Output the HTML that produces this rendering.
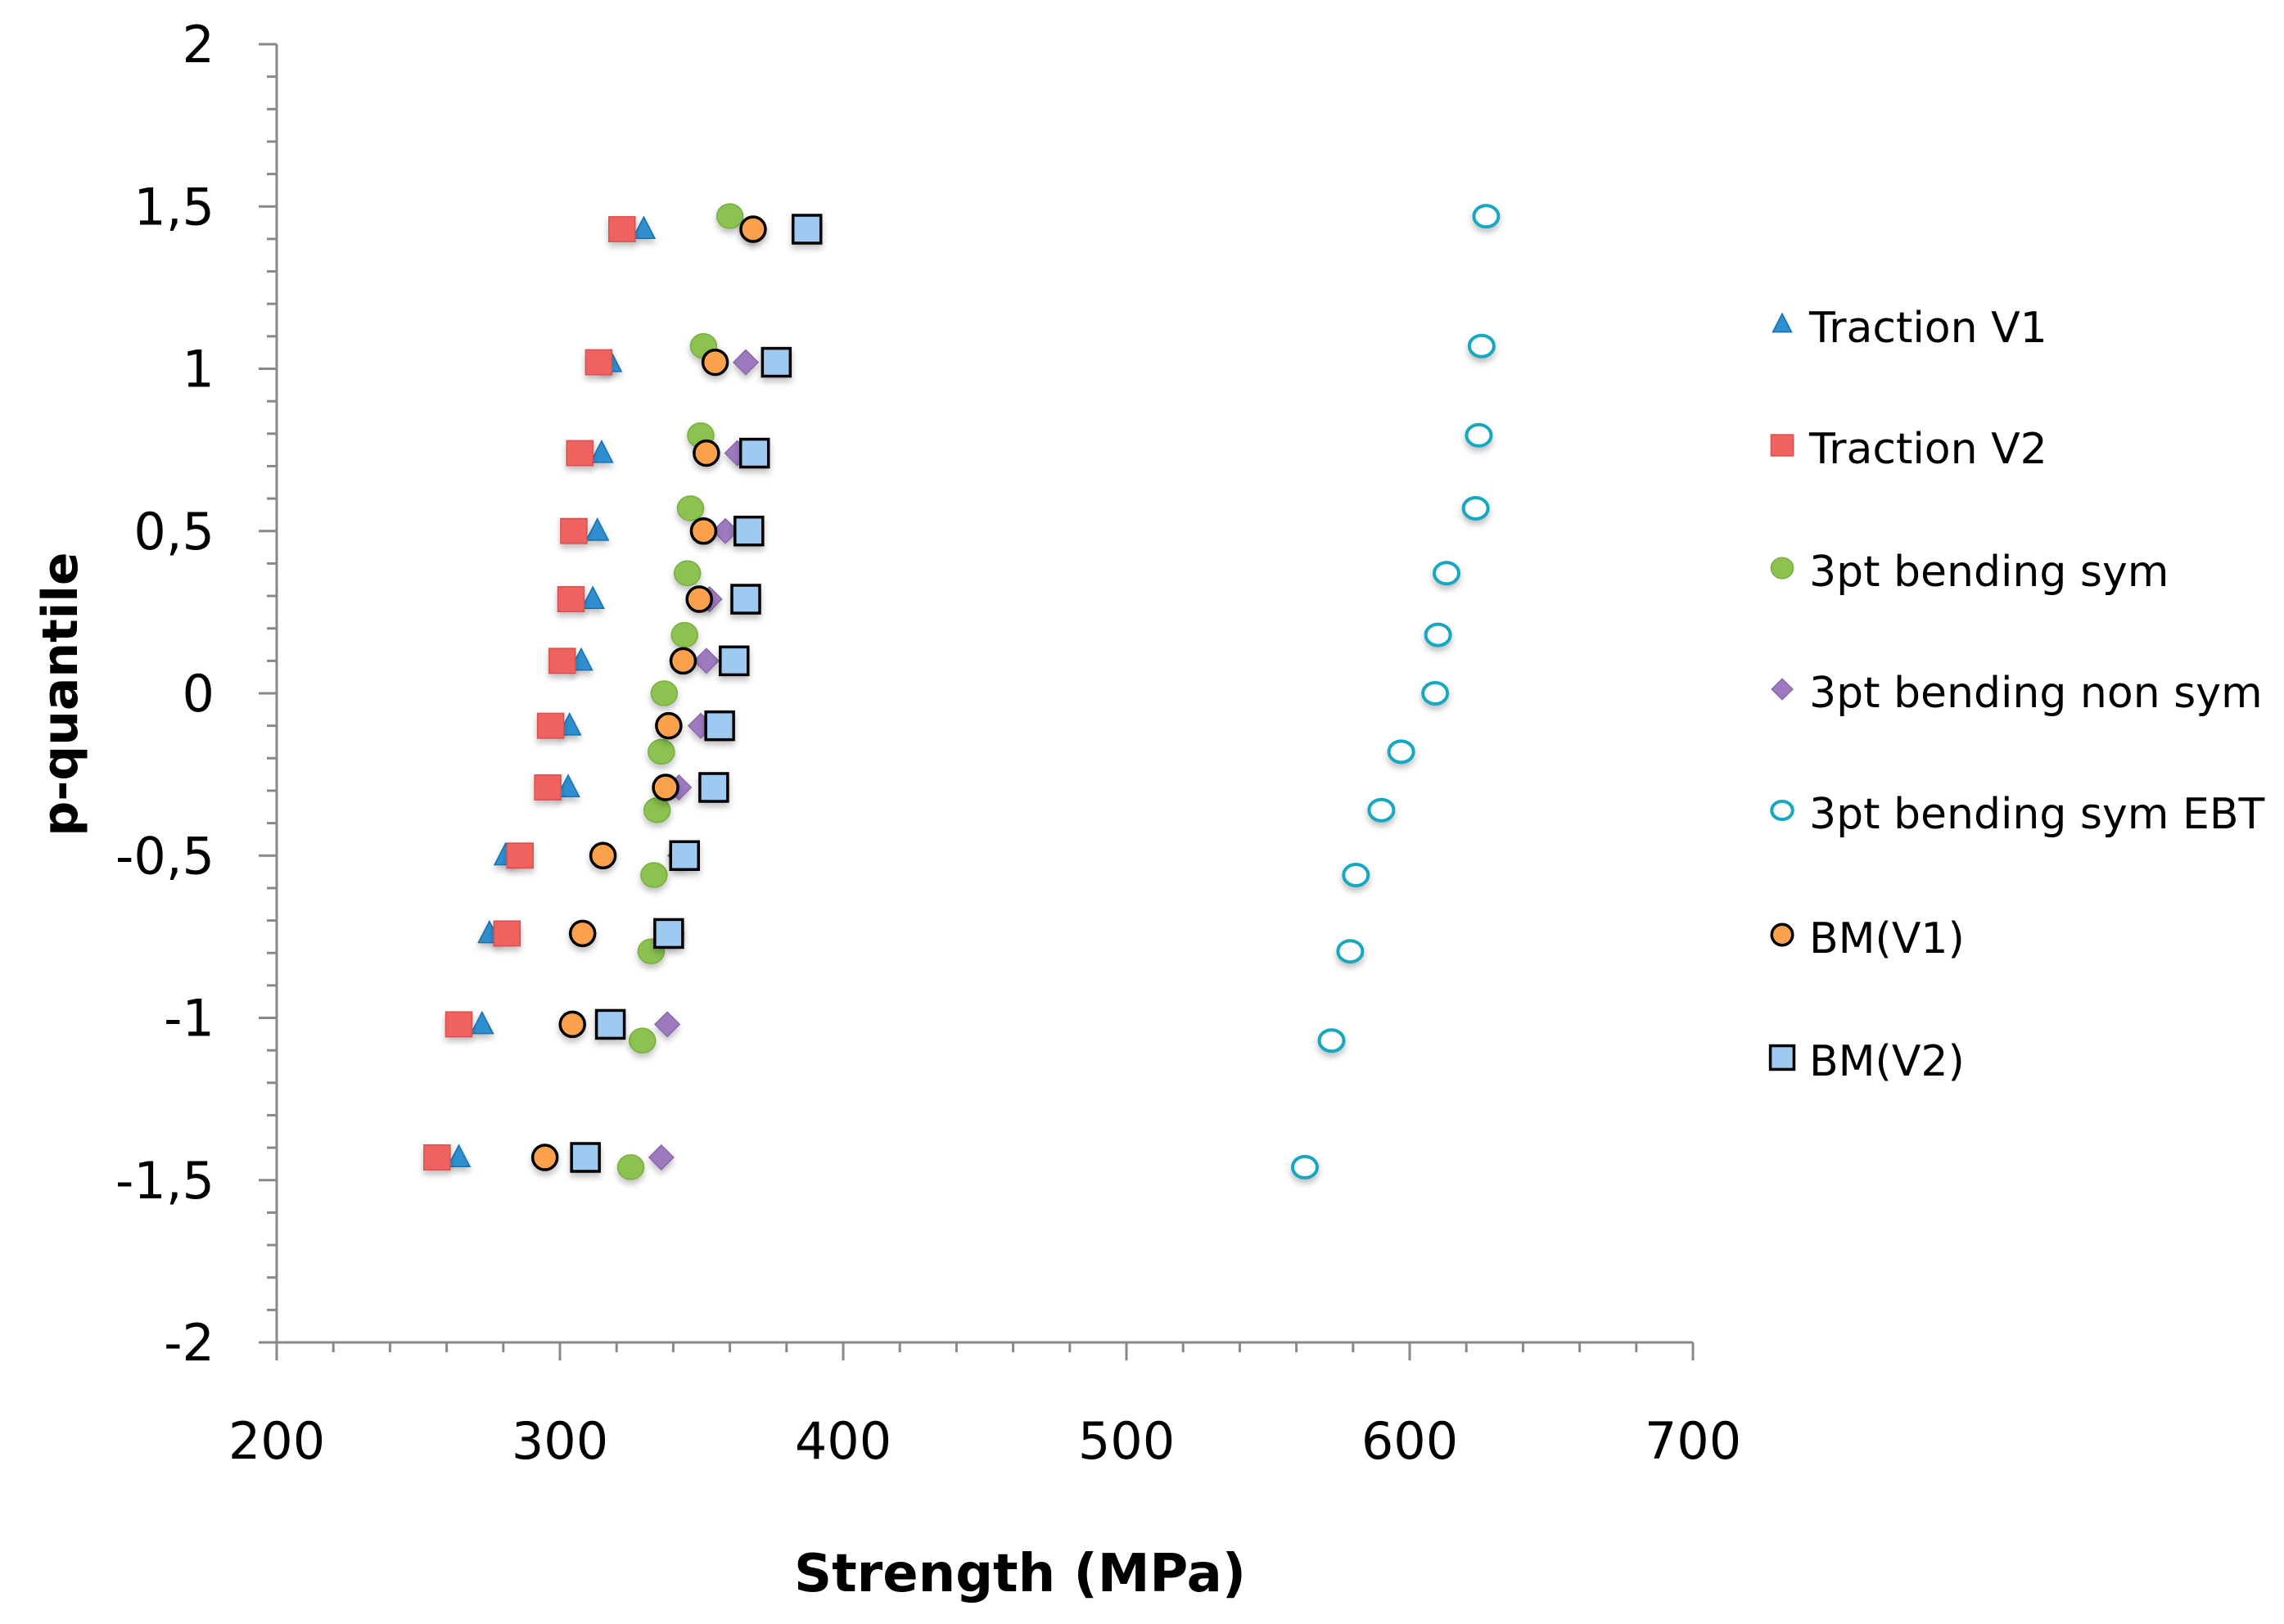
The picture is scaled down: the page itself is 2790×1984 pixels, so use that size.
<!DOCTYPE html>
<html><head><meta charset="utf-8"><style>
html,body{margin:0;padding:0;background:#fff;}
svg{display:block;font-family:"DejaVu Sans","Liberation Sans",sans-serif;}
</style></head><body>
<svg id="chart" width="2790" height="1984" viewBox="0 0 2790 1984" xmlns="http://www.w3.org/2000/svg">
<defs>
<filter id="sh" x="-50%" y="-50%" width="200%" height="200%"><feDropShadow dx="0" dy="5" stdDeviation="4" flood-color="#000" flood-opacity="0.25"/></filter>
</defs>
<g id="axes"></g>
<g id="marks"></g>
<text x="1246" y="1944" text-anchor="middle" font-size="64" font-weight="bold" fill="#000">Strength (MPa)</text>
<text transform="translate(94,848) rotate(-90)" text-anchor="middle" font-size="60" font-weight="bold" fill="#000">p-quantile</text>
<g id="legend"></g>
</svg>
<script>
const xTicks=[200,300,400,500,600,700];
const yTicks=[2,1.5,1,0.5,0,-0.5,-1,-1.5,-2];
const yTickLabels=["2","1,5","1","0,5","0","-0,5","-1","-1,5","-2"];
const yA=[1.43,1.02,0.74,0.5,0.29,0.1,-0.1,-0.29,-0.5,-0.74,-1.02,-1.43];
const yB=[1.47,1.07,0.795,0.57,0.37,0.18,0,-0.18,-0.36,-0.56,-0.795,-1.07,-1.46];
const tractionV1=[329.6,317.8,314.7,313.2,311.6,307.5,303.4,302.9,280.8,275.1,272.5,264.3];
const tractionV2=[321.9,313.7,307,304.9,303.9,300.8,296.7,295.7,285.9,281.3,264.3,256.6];
const bendSym=[360,350.7,349.7,346.1,345,344,336.8,335.8,334.3,333.2,332.2,329.1,325];
const bendNonSym=[368,365.6,362.6,358.4,352.8,351.7,349.7,342,342.5,339.4,337.9,335.8];
const bendSymEBT=[627,625.4,624.4,623.3,613,610,609,597,590,581,579,572.4,563];
const bmV1=[368.2,354.8,351.7,350.7,349.2,343.5,338.4,337.3,315.2,308,304.4,294.7];
const bmV2=[387.2,376.4,368.7,366.7,365.6,361.5,356.4,354.3,344,338.4,317.8,309];
const legendLabels=["Traction V1","Traction V2","3pt bending sym","3pt bending non sym","3pt bending sym EBT","BM(V1)","BM(V2)"];

const NS="http://www.w3.org/2000/svg";
const X0=338,X1=2068,Y0=1640,Y1=54;
const sx=v=>X0+(v-200)/500*(X1-X0);
const sy=v=>Y0-(v+2)/4*(Y0-Y1);
function mk(tag,attrs,parent){const e=document.createElementNS(NS,tag);for(const k in attrs)e.setAttribute(k,attrs[k]);parent.appendChild(e);return e;}
const axes=document.getElementById('axes');
let l=mk('line',{x1:X0,y1:Y1,x2:X0,y2:Y0,stroke:'#888','stroke-width':3},axes);

l=mk('line',{x1:X0,y1:Y0,x2:X1,y2:Y0,stroke:'#888','stroke-width':3},axes);

for(let v=-2;v<=2.0001;v+=0.1){const major=Math.abs(v*2-Math.round(v*2))<1e-6;const y=sy(v);
 const t=mk('line',{x1:major?X0-22:X0-12,y1:y,x2:X0,y2:y,stroke:'#888','stroke-width':3},axes);
 }
for(let v=200;v<=700;v+=20){const major=v%100===0;const x=sx(v);
 const t=mk('line',{x1:x,y1:Y0,x2:x,y2:major?Y0+22:Y0+12,stroke:'#888','stroke-width':3},axes);
 }
yTicks.forEach((v,i)=>{const t=mk('text',{x:262,y:sy(v)+22,'text-anchor':'end','font-size':62,fill:'#000'},axes);t.textContent=yTickLabels[i];
 });
xTicks.forEach(v=>{const t=mk('text',{x:sx(v),y:1782,'text-anchor':'middle','font-size':62,fill:'#000'},axes);t.textContent=String(v);
 });

function marker(kind,x,y,parent,sc){sc=sc||1;let e;
 if(kind==='tri'){const s=15*sc;e=mk('polygon',{points:`${x},${y-s} ${x+s*0.9},${y+s*0.75} ${x-s*0.9},${y+s*0.75}`,fill:'#2f8fd0',stroke:'#1a6fae','stroke-width':1.5},parent);}
 else if(kind==='sqr'){const s=16*sc;e=mk('rect',{x:x-s,y:y-s*0.95,width:2*s,height:1.9*s,fill:'#f0625f',stroke:'#d9504d','stroke-width':1.5},parent);}
 else if(kind==='grn'){e=mk('ellipse',{cx:x,cy:y,rx:16*sc,ry:15*sc,fill:'#8cc24f',stroke:'#79ad41','stroke-width':1.5},parent);}
 else if(kind==='dia'){const s=15*sc;e=mk('polygon',{points:`${x},${y-s} ${x+s},${y} ${x},${y+s} ${x-s},${y}`,fill:'#9d7ac0',stroke:'#8a67ad','stroke-width':1.5},parent);}
 else if(kind==='ebt'){e=mk('ellipse',{cx:x,cy:y,rx:15*sc,ry:13*sc,fill:'#fff',stroke:'#17a7c1','stroke-width':4},parent);}
 else if(kind==='org'){e=mk('ellipse',{cx:x,cy:y,rx:15*sc,ry:15*sc,fill:'#fca14b',stroke:'#000','stroke-width':3.5},parent);}
 else if(kind==='bm2'){const s=17*sc;e=mk('rect',{x:x-s,y:y-s,width:2*s,height:2*s,fill:'#9ec9f1',stroke:'#000','stroke-width':3.5},parent);}
 return e;}
const marks=document.getElementById('marks');
const series=[[tractionV1,yA,'tri','traction-v1-point'],[tractionV2,yA,'sqr','traction-v2-point'],[bendSym,yB,'grn','bending-sym-point'],[bendNonSym,yA,'dia','bending-non-sym-point'],[bendSymEBT,yB,'ebt','bending-sym-ebt-point'],[bmV1,yA,'org','bm-v1-point'],[bmV2,yA,'bm2','bm-v2-point']];
series.forEach(([xs,ys,kind,name])=>{const g=mk('g',{filter:'url(#sh)'},marks);
 
 xs.forEach((v,i)=>{const m=marker(kind,sx(v),sy(ys[i]),g);
  
  });});
const leg=document.getElementById('legend');
const kinds=['tri','sqr','grn','dia','ebt','org','bm2'];
const legY=[404,552,702,850,998,1150,1300];
legendLabels.forEach((lab,i)=>{const g=mk('g',{},leg);
 
 const m=marker(kinds[i],2177,legY[i]-8,g,0.85);
 
 
 const t=mk('text',{x:2210,y:legY[i]+14,'font-size':52,fill:'#000'},g);t.textContent=lab;
 });
</script>
</body></html>
